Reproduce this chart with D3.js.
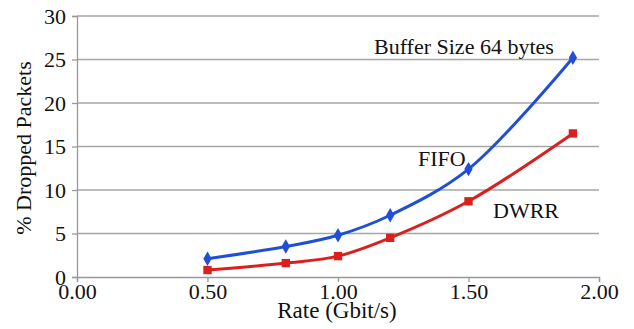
<!DOCTYPE html>
<html>
<head>
<meta charset="utf-8">
<script src="https://cdn.jsdelivr.net/npm/d3@7"></script>
<style>
  body { margin: 0; background: #fff; }
  text { font-family: "Liberation Serif", "DejaVu Serif", serif; fill: #111; }
</style>
</head>
<body>
<svg width="634" height="329"></svg>
<script>
// rate values (Gbit/s)
let rates = [0.50, 0.80, 1.00, 1.20, 1.50, 1.90];
// % dropped packets
let fifo = [2.1, 3.5, 4.8, 7.1, 12.4, 25.2];
let dwrr = [0.8, 1.6, 2.4, 4.5, 8.7, 16.5];
let xTicks = [0, 0.5, 1.0, 1.5, 2.0];
let yTicks = [0, 5, 10, 15, 20, 25, 30];

let svg = d3.select('svg');
let plotLeft = 77, plotRight = 599, plotTop = 16, plotBottom = 277;

let x = d3.scaleLinear().domain([0, 2]).range([plotLeft, plotRight]);
let y = d3.scaleLinear().domain([0, 30]).range([plotBottom, plotTop]);

// gridlines
svg.append('g')
  .selectAll('line')
  .data(yTicks.filter(d => d > 0))
  .enter()
  .append('line')
  .attr('x1', plotLeft)
  .attr('x2', plotRight)
  .attr('y1', d => y(d))
  .attr('y2', d => y(d))
  .style('stroke', '#a6a6a6')
  .style('stroke-width', 1.3);

let xAxis = d3.axisBottom(x)
  .tickValues(xTicks)
  .tickFormat(d3.format('.2f'))
  .tickSizeOuter(0)
  .tickSize(5)
  .tickPadding(1);

let yAxis = d3.axisLeft(y)
  .tickValues(yTicks)
  .tickFormat(d3.format('d'))
  .tickSizeOuter(0)
  .tickSize(5)
  .tickPadding(6);

let gx = svg.append('g')
  .attr('transform', `translate(0,${plotBottom})`)
  .call(xAxis);
let gy = svg.append('g')
  .attr('transform', `translate(${plotLeft},0)`)
  .call(yAxis);

[gx, gy].forEach(g => {
  g.select('.domain').style('stroke', '#999').style('stroke-width', 1.3);
  g.selectAll('.tick line').style('stroke', '#999').style('stroke-width', 1.3);
  g.selectAll('.tick text')
    .style('font-family', '"Liberation Serif", serif')
    .style('font-size', '22px')
    .style('fill', '#111');
});

// axis titles
svg.append('text')
  .attr('transform', 'rotate(-90)')
  .attr('x', -148)
  .attr('y', 31)
  .style('font-size', '22px')
  .style('text-anchor', 'middle')
  .text('% Dropped Packets');

svg.append('text')
  .attr('x', 337)
  .attr('y', 318)
  .style('font-size', '23px')
  .style('text-anchor', 'middle')
  .text('Rate (Gbit/s)');

let series = [
  { name: 'FIFO', values: fifo, color: '#1f4fd6', marker: d3.symbolDiamond },
  { name: 'DWRR', values: dwrr, color: '#d9201f', marker: d3.symbolSquare }
];

let line = d3.line()
  .x((d, i) => x(rates[i]))
  .y(d => y(d))
  .curve(d3.curveCatmullRom.alpha(0.5));

series.forEach(s => {
  svg.append('path')
    .datum(s.values)
    .attr('d', line)
    .style('fill', 'none')
    .style('stroke', s.color)
    .style('stroke-width', 3);

  svg.append('g')
    .selectAll('path')
    .data(s.values)
    .enter()
    .append('path')
    .attr('transform', (d, i) => `translate(${x(rates[i])},${y(d)})`)
    .attr('d', d3.symbol().type(s.marker).size(s.marker === d3.symbolSquare ? 70 : 60))
    .style('fill', s.color);
});

// annotations
svg.append('text')
  .attr('x', 374)
  .attr('y', 54)
  .style('font-size', '22px')
  .text('Buffer Size 64 bytes');

svg.append('text')
  .attr('x', 418)
  .attr('y', 166)
  .style('font-size', '22px')
  .text('FIFO');

svg.append('text')
  .attr('x', 493)
  .attr('y', 218)
  .style('font-size', '22px')
  .text('DWRR');
</script>
</body>
</html>
